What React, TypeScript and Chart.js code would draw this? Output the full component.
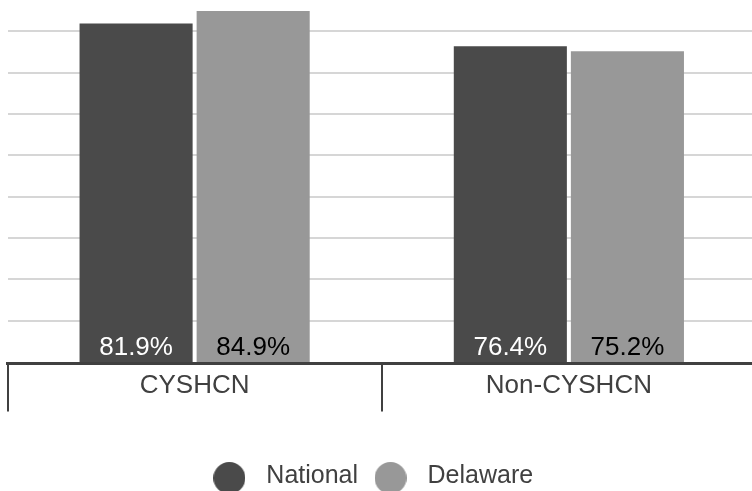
import React, { useEffect, useRef } from "react";
import { Chart, registerables } from "chart.js";

Chart.register(...registerables);

// ---- data ----
const categories = ["CYSHCN", "Non-CYSHCN"];
const seriesNames = ["National", "Delaware"];
const nationalValues = [81.9, 76.4];
const delawareValues = [84.9, 75.2];
const gridValues = [10, 20, 30, 40, 50, 60, 70, 80, 90];
const axisMin = -0.36;
const axisMax = 90;

// ---- styles ----
const FONT = '"Liberation Sans", Arial, Helvetica, sans-serif';
const seriesColors = ["#4a4a4a", "#989898"];
const labelColors = ["#ffffff", "#000000"];
const textColor = "#404040";

function makeDot(color: string): HTMLCanvasElement {
  const c = document.createElement("canvas");
  c.width = 32;
  c.height = 35;
  const g = c.getContext("2d")!;
  g.fillStyle = color;
  g.beginPath();
  g.arc(16, 19, 16, 0, Math.PI * 2);
  g.fill();
  return c;
}

const barLabelPlugin = {
  id: "barLabels",
  afterDatasetsDraw(chart: any) {
    const ctx = chart.ctx;
    const yScale = chart.scales.y;
    const base = yScale.getPixelForValue(0);
    ctx.save();
    ctx.font = `26px ${FONT}`;
    ctx.textAlign = "center";
    ctx.textBaseline = "alphabetic";
    chart.data.datasets.forEach((ds: any, di: number) => {
      const meta = chart.getDatasetMeta(di);
      meta.data.forEach((bar: any, i: number) => {
        const v = ds.data[i] as number;
        ctx.fillStyle = labelColors[di];
        ctx.fillText(v.toFixed(1) + "%", bar.x, base - 7.5);
      });
    });
    ctx.restore();
  },
};

export default function App() {
  const ref = useRef<HTMLCanvasElement | null>(null);

  useEffect(() => {
    if (!ref.current) return;
    Chart.defaults.font.family = FONT;
    const chart = new Chart(ref.current, {
      type: "bar",
      data: {
        labels: categories,
        datasets: [
          {
            label: seriesNames[0],
            data: nationalValues,
            backgroundColor: seriesColors[0],
            pointStyle: makeDot(seriesColors[0]) as any,
            categoryPercentage: 0.6257,
            barPercentage: 0.9658,
          },
          {
            label: seriesNames[1],
            data: delawareValues,
            backgroundColor: seriesColors[1],
            pointStyle: makeDot(seriesColors[1]) as any,
            categoryPercentage: 0.6257,
            barPercentage: 0.9658,
          },
        ],
      },
      options: {
        responsive: false,
        animation: false,
        events: [],
        layout: { padding: 0 },
        plugins: {
          tooltip: { enabled: false },
          title: { display: false },
          legend: {
            display: true,
            position: "bottom",
            labels: {
              usePointStyle: true,
              pointStyleWidth: 49,
              padding: 8,
              color: textColor,
              font: { size: 25, family: FONT },
            },
          },
        },
        scales: {
          x: {
            offset: true,
            grid: {
              offset: true,
              drawOnChartArea: false,
              color: textColor,
              lineWidth: 2,
              tickLength: 48,
            },
            border: { display: true, color: textColor, width: 3 },
            ticks: {
              color: textColor,
              font: { size: 26, family: FONT },
              padding: -41,
              maxRotation: 0,
            },
            afterFit: (scale: any) => {
              scale.height = 92.5;
            },
          },
          y: {
            min: axisMin,
            max: axisMax,
            grid: { color: "#d6d6d6", lineWidth: 2, drawTicks: false },
            border: { display: false },
            ticks: { display: false },
            afterBuildTicks: (scale: any) => {
              scale.ticks = gridValues.map((v) => ({ value: v }));
            },
            afterFit: (scale: any) => {
              scale.width = 25.5;
            },
          },
        },
      },
      plugins: [barLabelPlugin],
    });
    return () => chart.destroy();
  }, []);

  return (
    <div
      style={{
        position: "fixed",
        left: 0,
        top: 0,
        width: 752,
        height: 491,
        overflow: "hidden",
        background: "#ffffff",
      }}
    >
      <canvas
        ref={ref}
        width={774}
        height={509}
        style={{ position: "absolute", left: -18, top: -10, width: 774, height: 509 }}
      />
    </div>
  );
}
